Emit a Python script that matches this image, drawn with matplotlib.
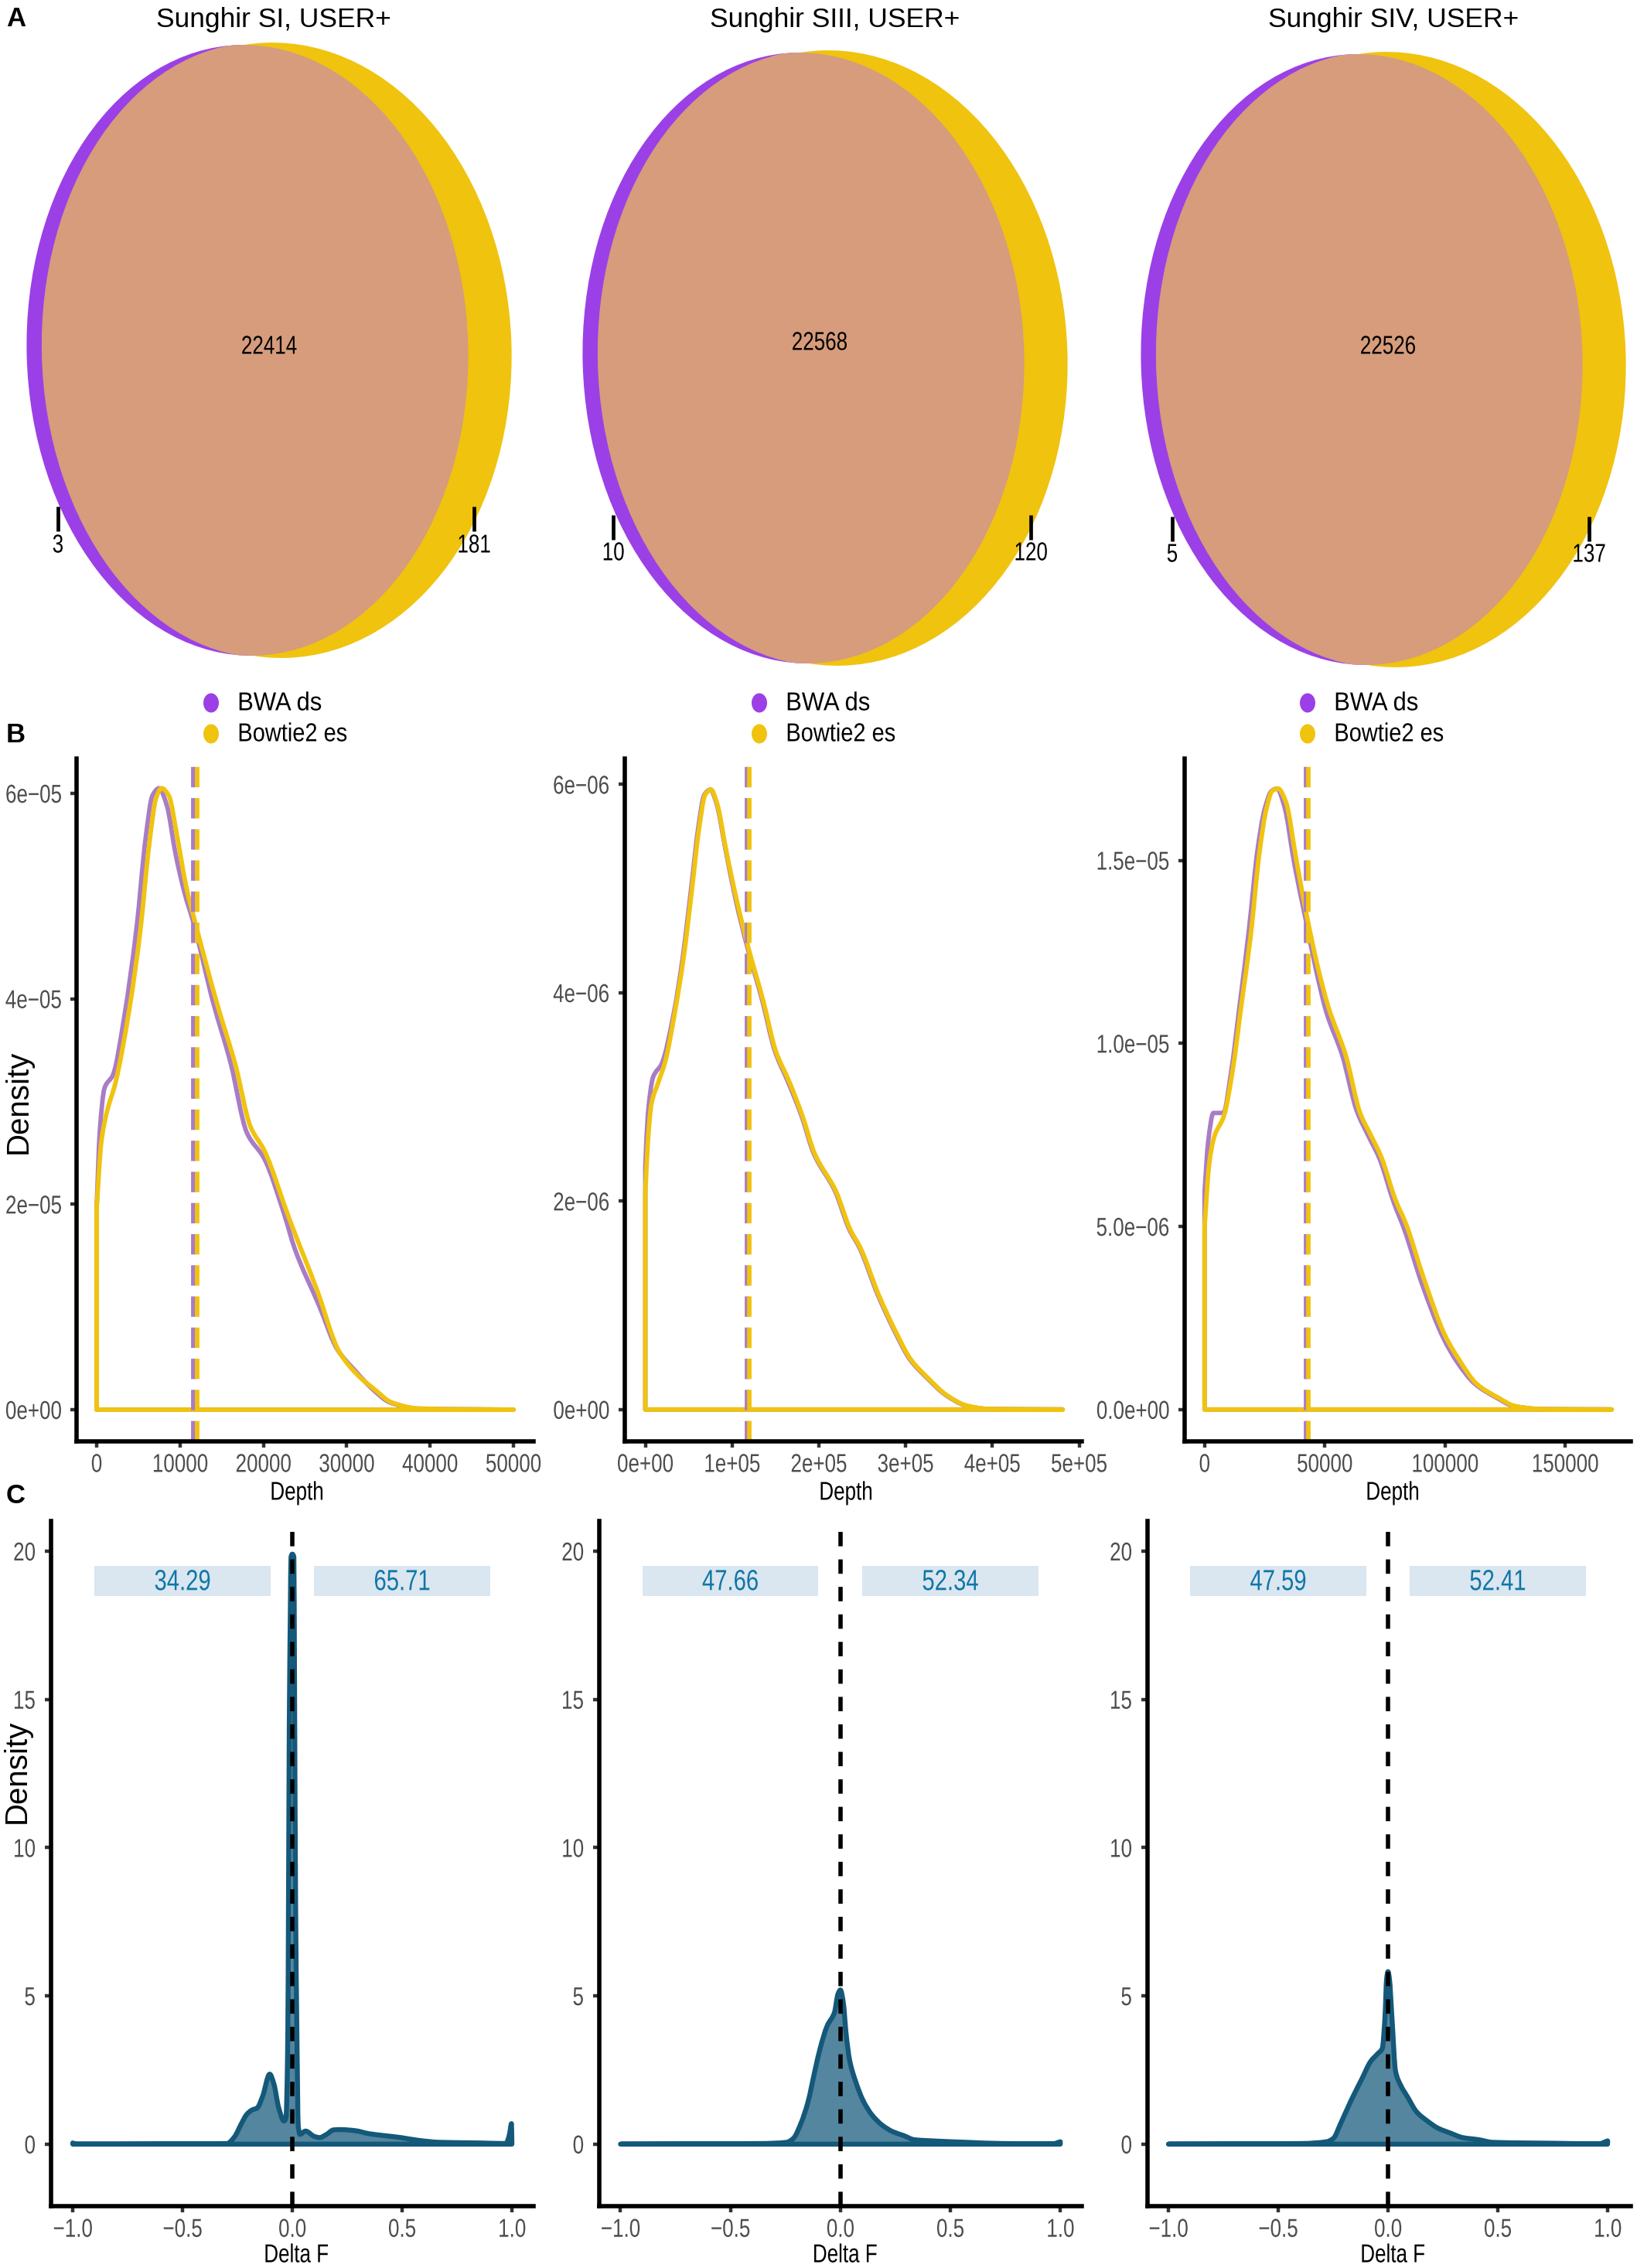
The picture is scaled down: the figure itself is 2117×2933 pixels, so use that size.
import matplotlib
matplotlib.use("Agg")
import matplotlib.pyplot as plt
from matplotlib.patches import Ellipse, PathPatch, Rectangle
from matplotlib.patheffects import AbstractPathEffect
from matplotlib.path import Path
from matplotlib.transforms import Affine2D, Bbox

W, H = 2117, 2933
plt.rcParams["font.family"] = ["Liberation Sans", "DejaVu Sans"]
plt.rcParams["lines.scale_dashes"] = False

PURPLE = "#9b40e6"
PURPLE_LINE = "#a97cc6"
YELLOW = "#f0c30f"
PINK = "#d69c7c"
TEAL = "#14587a"
GREY = "#4d4d4d"
SQUEEZE = 0.78

# Panel A
venn_titles = ["Sunghir SI, USER+", "Sunghir SIII, USER+", "Sunghir SIV, USER+"]
venn_shared = [22414, 22568, 22526]
venn_bwa_only = [3, 10, 5]
venn_bowtie_only = [181, 120, 137]

# Panel B, x in depth and y in density
b1_x_bwa = [0, 370, 940, 1960, 3300, 4800, 5870, 6700, 7490, 8425, 9490, 10550, 11620, 13960,
            16090, 18000, 20130, 22470, 23750, 26700, 28850, 31000, 33100, 35200, 38600, 50000]
b1_y_bwa = [1.97e-5, 2.7e-5, 3.13e-5, 3.26e-5, 3.82e-5, 4.7e-5, 5.56e-5, 5.98e-5, 6.05e-5, 5.88e-5,
            5.4e-5, 5.03e-5, 4.74e-5, 3.97e-5, 3.37e-5, 2.7e-5, 2.44e-5, 1.91e-5, 1.57e-5, 1.01e-5,
            5.9e-6, 3.8e-6, 2.0e-6, 7e-7, 1e-7, 0]
b1_x_bowtie = [0, 550, 1200, 2250, 3960, 5230, 6300, 7150, 7790, 8640, 9700, 10770, 11830, 14380,
               16700, 18430, 20130, 23100, 26500, 29060, 31400, 33300, 35400, 38800, 50000]
b1_y_bowtie = [1.97e-5, 2.6e-5, 2.89e-5, 3.18e-5, 3.92e-5, 4.66e-5, 5.5e-5, 5.96e-5, 6.05e-5, 5.98e-5,
               5.56e-5, 5.08e-5, 4.74e-5, 3.97e-5, 3.34e-5, 2.76e-5, 2.52e-5, 1.86e-5, 1.15e-5, 5.7e-6,
               3.3e-6, 2.0e-6, 7e-7, 1e-7, 0]

b2_x_bwa = [0, 2900, 9000, 19000, 33000, 43000, 53000, 61000, 68000, 75000, 82000, 92500, 104000,
            118500, 135000, 149000, 165000, 180000, 194000, 219000, 235000, 247000, 268000, 288000,
            305000, 325000, 346000, 370000, 395000, 481000]
b2_y_bwa = [2.33e-6, 2.82e-6, 3.19e-6, 3.32e-6, 3.81e-6, 4.33e-6, 5.01e-6, 5.58e-6, 5.9e-6, 5.95e-6,
            5.82e-6, 5.375e-6, 4.9e-6, 4.41e-6, 3.92e-6, 3.45e-6, 3.135e-6, 2.82e-6, 2.46e-6, 2.09e-6,
            1.73e-6, 1.55e-6, 1.1e-6, 7.4e-7, 4.8e-7, 3e-7, 1.4e-7, 3.6e-8, 5e-9, 0]
b2_x_bowtie = [0, 2900, 7000, 15000, 23000, 34000, 44000, 54000, 62000, 69000, 75700, 82600, 93000,
               105000, 119500, 136000, 150000, 166500, 181000, 195000, 220000, 236000, 248000, 269000,
               289000, 306000, 326000, 347000, 371000, 396000, 481000]
b2_y_bowtie = [2.07e-6, 2.56e-6, 2.93e-6, 3.14e-6, 3.34e-6, 3.81e-6, 4.33e-6, 5.01e-6, 5.58e-6, 5.9e-6,
               5.95e-6, 5.82e-6, 5.375e-6, 4.9e-6, 4.41e-6, 3.92e-6, 3.45e-6, 3.135e-6, 2.82e-6, 2.46e-6,
               2.09e-6, 1.73e-6, 1.55e-6, 1.1e-6, 7.4e-7, 4.8e-7, 3e-7, 1.4e-7, 3.6e-8, 5e-9, 0]

b3_x_bwa = [0, 1470, 3680, 7800, 11000, 14700, 18400, 22060, 25000, 27940, 30150, 33090, 37500, 41900,
            46300, 50700, 57350, 63200, 68400, 72800, 78700, 83100, 90400, 99300, 105150, 112500, 121300,
            128700, 140400, 169400]
b3_y_bwa = [5.96e-6, 7.3e-6, 8.1e-6, 8.1e-6, 9.2e-6, 1.11e-5, 1.307e-5, 1.53e-5, 1.64e-5, 1.69e-5, 1.696e-5,
            1.65e-5, 1.485e-5, 1.344e-5, 1.203e-5, 1.085e-5, 9.66e-6, 8.18e-6, 7.44e-6, 6.85e-6, 5.66e-6,
            4.92e-6, 3.44e-6, 1.96e-6, 1.29e-6, 7e-7, 3.3e-7, 9e-8, 1e-8, 0]
b3_x_bowtie = [0, 1900, 3970, 8090, 11760, 15400, 19100, 22800, 25700, 28200, 30600, 33800, 38200, 42650,
               47060, 51470, 58800, 64700, 69100, 73500, 79400, 83800, 91200, 100000, 105900, 113200, 122000,
               129400, 141000, 169400]
b3_y_bowtie = [5.0e-6, 6.7e-6, 7.44e-6, 8.03e-6, 9.3e-6, 1.11e-5, 1.29e-5, 1.52e-5, 1.64e-5, 1.69e-5, 1.696e-5,
               1.66e-5, 1.5e-5, 1.344e-5, 1.21e-5, 1.1e-5, 9.66e-6, 8.1e-6, 7.5e-6, 6.9e-6, 5.73e-6,
               5.07e-6, 3.58e-6, 2.03e-6, 1.36e-6, 7e-7, 3.3e-7, 9e-8, 1e-8, 0]

b_mean_bwa = [11620, 117000, 42200]
b_mean_bowtie = [12040, 119500, 43100]

b_xticks = [[0, 10000, 20000, 30000, 40000, 50000],
            [0, 100000, 200000, 300000, 400000, 500000],
            [0, 50000, 100000, 150000]]
b_xlabels = [["0", "10000", "20000", "30000", "40000", "50000"],
             ["0e+00", "1e+05", "2e+05", "3e+05", "4e+05", "5e+05"],
             ["0", "50000", "100000", "150000"]]
b_yticks = [[0, 2e-5, 4e-5, 6e-5], [0, 2e-6, 4e-6, 6e-6], [0, 5e-6, 1e-5, 1.5e-5]]
b_ylabels = [["0e+00", "2e\u221205", "4e\u221205", "6e\u221205"],
             ["0e+00", "2e\u221206", "4e\u221206", "6e\u221206"],
             ["0.0e+00", "5.0e\u221206", "1.0e\u221205", "1.5e\u221205"]]

# Panel C
c1_x = [-1, -0.984, -0.297, -0.264, -0.232, -0.208, -0.184, -0.16, -0.135, -0.103, -0.084, -0.062, -0.038,
        -0.029, -0.022, -0.019, -0.014, -0.009, -0.006, 0.0, 0.007, 0.01, 0.015, 0.02, 0.027, 0.035, 0.06,
        0.1, 0.124, 0.156, 0.188, 0.22, 0.285, 0.35, 0.415, 0.495, 0.576, 0.673, 0.851, 0.973, 0.989, 0.998, 1.0]
c1_y = [0.04, 0, 0.02, 0.24, 0.69, 1.0, 1.15, 1.22, 1.62, 2.36, 2.03, 1.22, 0.78,
        0.87, 2.83, 5.5, 14.0, 18.0, 19.8, 19.9, 19.8, 15.5, 8.0, 4.26, 0.6, 0.33, 0.44,
        0.26, 0.22, 0.33, 0.48, 0.49, 0.455, 0.35, 0.29, 0.22, 0.125, 0.06, 0.04, 0.02, 0.33, 0.69, 0]
c2_x = [-1, -0.358, -0.245, -0.213, -0.18, -0.148, -0.116, -0.092, -0.06, -0.027, -0.011, 0.0, 0.013, 0.026,
        0.042, 0.069, 0.102, 0.142, 0.19, 0.238, 0.287, 0.335, 0.416, 0.577, 0.74, 0.965, 1.0]
c2_y = [0, 0.02, 0.06, 0.2, 0.69, 1.4, 2.47, 3.23, 3.99, 4.44, 5.06, 5.2, 4.79, 3.72,
        2.83, 2.12, 1.49, 1.0, 0.64, 0.42, 0.29, 0.15, 0.11, 0.06, 0.02, 0.01, 0.08]
c3_x = [-1, -0.393, -0.28, -0.248, -0.216, -0.167, -0.119, -0.079, -0.047, -0.026, -0.014, -0.006, 0.0, 0.006,
        0.018, 0.034, 0.058, 0.09, 0.13, 0.179, 0.227, 0.283, 0.34, 0.412, 0.477, 0.62, 0.75, 0.96, 1.0]
c3_y = [0, 0.02, 0.08, 0.2, 0.69, 1.49, 2.2, 2.79, 3.05, 3.23, 4.26, 5.6, 5.82, 5.6,
        4.26, 2.47, 1.98, 1.58, 1.09, 0.78, 0.54, 0.375, 0.22, 0.15, 0.06, 0.04, 0.03, 0.01, 0.11]
c_left_pct = ["34.29", "47.66", "47.59"]
c_right_pct = ["65.71", "52.34", "52.41"]
c_xticks = [-1.0, -0.5, 0.0, 0.5, 1.0]
c_xlabels = ["\u22121.0", "\u22120.5", "0.0", "0.5", "1.0"]
c_yticks = [0, 5, 10, 15, 20]


def anchor_of(text, x0, x1):
    return {"left": x0, "center": (x0 + x1) / 2, "right": x1}[text.get_ha()]


class Narrow(AbstractPathEffect):
    # the original text is condensed sideways, no narrow font is installed
    def __init__(self, text, k):
        super().__init__()
        self.text = text
        self.k = k

    def draw_path(self, renderer, gc, tpath, affine, rgbFace=None):
        ext = tpath.get_extents(affine)
        a = anchor_of(self.text, ext.x0, ext.x1)
        squeezed = affine + Affine2D().translate(-a, 0).scale(self.k, 1).translate(a, 0)
        renderer.draw_path(gc, tpath, squeezed, rgbFace)


def narrow(text, k=SQUEEZE):
    text.set_path_effects([Narrow(text, k)])
    original = text.get_window_extent

    def extent(renderer=None, dpi=None):
        b = original(renderer, dpi)
        a = anchor_of(text, b.x0, b.x1)
        return Bbox.from_extents(a + (b.x0 - a) * k, b.y0, a + (b.x1 - a) * k, b.y1)

    text.get_window_extent = extent
    return text


def density_path(x, y):
    # closed density outline, smooth between the read points with monotone bezier segments
    n = len(x)
    slopes = [(y[i + 1] - y[i]) / (x[i + 1] - x[i]) for i in range(n - 1)]
    m = [slopes[0]] + [0.0] * (n - 2) + [slopes[-1]]
    for i in range(1, n - 1):
        if slopes[i - 1] * slopes[i] > 0:
            h0, h1 = x[i] - x[i - 1], x[i + 1] - x[i]
            w0, w1 = 2 * h1 + h0, h1 + 2 * h0
            m[i] = (w0 + w1) / (w0 / slopes[i - 1] + w1 / slopes[i])
    verts = [(x[0], 0), (x[0], y[0])]
    codes = [Path.MOVETO, Path.LINETO]
    for i in range(n - 1):
        h = x[i + 1] - x[i]
        verts += [(x[i] + h / 3, y[i] + m[i] * h / 3), (x[i + 1] - h / 3, y[i + 1] - m[i + 1] * h / 3),
                  (x[i + 1], y[i + 1])]
        codes += [Path.CURVE4] * 3
    verts += [(x[-1], 0), (x[0], 0)]
    codes += [Path.LINETO, Path.CLOSEPOLY]
    return Path(verts, codes)


def make_axes(fig, box, xref, yref, ypad=8.5):
    # box is left, right, top, bottom in pixels, xref/yref tie two pixels to two data values
    left, right, top, bottom = box
    ax = fig.add_axes([left / W, 1 - bottom / H, (right - left) / W, (bottom - top) / H])
    px0, px1, v0, v1 = xref
    ax.set_xlim(v0 + (left - px0) * (v1 - v0) / (px1 - px0), v0 + (right - px0) * (v1 - v0) / (px1 - px0))
    py0, py1, v0, v1 = yref
    ax.set_ylim(v0 + (bottom - py0) * (v1 - v0) / (py1 - py0), v0 + (top - py0) * (v1 - v0) / (py1 - py0))
    for side in ["top", "right"]:
        ax.spines[side].set_visible(False)
    for side in ["left", "bottom"]:
        ax.spines[side].set_linewidth(4.0)
    ax.tick_params(length=5.5, width=3.2, color="#333333", labelcolor=GREY)
    ax.tick_params(axis="x", pad=6)
    ax.tick_params(axis="y", pad=ypad)
    ax.patch.set_alpha(0)
    return ax


def set_labels(ax, xticks, xlabels, yticks, ylabels):
    ax.set_xticks(xticks)
    ax.set_xticklabels(xlabels, fontsize=24)
    ax.set_yticks(yticks)
    ax.set_yticklabels(ylabels, fontsize=24)
    for label in ax.get_xticklabels() + ax.get_yticklabels():
        narrow(label)


fig = plt.figure(figsize=(W / 100, H / 100), dpi=100, facecolor="white")
page = fig.add_axes([0, 0, 1, 1])
page.set_xlim(0, W)
page.set_ylim(H, 0)
page.axis("off")

# Panel A, ellipses placed in page pixels
venn_dx = [0, 719, 1441]
venn_dy = [0, 10, 12]
tick_x_left = [75, 793, 1516]
tick_x_right = [613, 1333, 2055]
shared_xy = [(348, 449), (1060, 444), (1795, 449)]
title_x = [354, 1080, 1802]
for i in range(3):
    dx, dy = venn_dx[i], venn_dy[i]
    bwa = Ellipse((320 + dx, 453 + dy), 571, 790, angle=-1.5, facecolor=PURPLE, edgecolor="none")
    bowtie = Ellipse((358 + dx, 453 + dy), 607, 796, angle=-2.0, facecolor=YELLOW, edgecolor="none")
    both = Ellipse((320 + dx, 453 + dy), 571, 790, angle=-1.5, facecolor=PINK, edgecolor="none")
    # the left edge of the overlap follows the purple edge more closely than the yellow ellipse does
    overlap_left = Ellipse((340 + dx, 453 + dy), 572, 796, angle=-1.5, visible=False)
    page.add_patch(bwa)
    page.add_patch(bowtie)
    page.add_patch(both)
    page.add_patch(overlap_left)
    both.set_clip_path(overlap_left)
    page.text(title_x[i], 26, venn_titles[i], ha="center", va="center", fontsize=25.5)
    narrow(page.text(shared_xy[i][0], shared_xy[i][1], str(venn_shared[i]), ha="center", va="center", fontsize=24))
    page.plot([tick_x_left[i]] * 2, [655 + dy * 1.1, 687 + dy * 1.1], color="black", lw=3.4, solid_capstyle="butt")
    page.plot([tick_x_right[i]] * 2, [655 + dy * 1.1, 687 + dy * 1.1], color="black", lw=3.4, solid_capstyle="butt")
    narrow(page.text(tick_x_left[i], 706 + dy, str(venn_bwa_only[i]), ha="center", va="center", fontsize=24))
    narrow(page.text(tick_x_right[i], 706 + dy, str(venn_bowtie_only[i]), ha="center", va="center", fontsize=24))

for letter, y in [("A", 24), ("B", 951), ("C", 1934)]:
    page.text(8, y, letter, ha="left", va="center", fontsize=25, fontweight="bold")

# Panel B
b_boxes = [(99, 690, 981, 1863.5), (808, 1399, 981, 1863.5), (1532, 2109, 981, 1863.5)]
b_xrefs = [(125, 664, 0, 50000), (834.5, 1395.6, 0, 500000), (1557.8, 2024, 0, 150000)]
b_yrefs = [(1823, 1026, 0, 6e-5), (1822.8, 1014.4, 0, 6e-6), (1822.8, 1112.6, 0, 1.5e-5)]
b_ypads = [61, 8.5, 8.5]
b_curves = [(b1_x_bwa, b1_y_bwa, b1_x_bowtie, b1_y_bowtie),
            (b2_x_bwa, b2_y_bwa, b2_x_bowtie, b2_y_bowtie),
            (b3_x_bwa, b3_y_bwa, b3_x_bowtie, b3_y_bowtie)]
depth_x = [384, 1094, 1801]
legend_dot_x = [273, 982, 1691]
for i in range(3):
    ax = make_axes(fig, b_boxes[i], b_xrefs[i], b_yrefs[i], b_ypads[i])
    x_a, y_a, x_b, y_b = b_curves[i]
    ax.axvline(b_mean_bwa[i], color=PURPLE_LINE, lw=4.2, linestyle=(0, (19, 10)))
    ax.axvline(b_mean_bowtie[i], color=YELLOW, lw=4.2, linestyle=(0, (19, 10)))
    ax.add_patch(PathPatch(density_path(x_a, y_a), facecolor="none", edgecolor=PURPLE_LINE, lw=4.2, joinstyle="round"))
    ax.add_patch(PathPatch(density_path(x_b, y_b), facecolor="none", edgecolor=YELLOW, lw=4.2, joinstyle="round"))
    set_labels(ax, b_xticks[i], b_xlabels[i], b_yticks[i], b_ylabels[i])
    if i == 0:
        # these labels nearly touch the page edge, anchor them on their left end
        for label in ax.get_yticklabels():
            label.set_ha("left")
    narrow(page.text(depth_x[i], 1931, "Depth", ha="center", va="center", fontsize=24))
    for y, name, color, k in [(909, "BWA ds", PURPLE, 0.93), (949, "Bowtie2 es", YELLOW, 0.87)]:
        page.add_patch(Ellipse((legend_dot_x[i], y), 20, 25, facecolor=color, edgecolor="none"))
        narrow(page.text(legend_dot_x[i] + 34, y + 1, name, ha="left", va="center", fontsize=24), k)
page.text(24, 1425, "Density", rotation=90, ha="center", va="center", fontsize=29)

# Panel C
c_boxes = [(65.7, 690, 1966.5, 2852.7), (774.8, 1399, 1966.5, 2852.7), (1483.7, 2108.7, 1966.5, 2852.7)]
c_xrefs = [(94.1, 662, -1, 1), (802.4, 1371.2, -1, 1), (1511, 2079, -1, 1)]
c_yref = (2772.8, 2006, 0, 20)
c_curves = [(c1_x, c1_y), (c2_x, c2_y), (c3_x, c3_y)]
delta_x = [383, 1092.6, 1801]
for i in range(3):
    ax = make_axes(fig, c_boxes[i], c_xrefs[i], c_yref)
    x, y = c_curves[i]
    outline = density_path(x, y)
    ax.add_patch(PathPatch(outline, facecolor=TEAL, alpha=0.72, edgecolor="none"))
    ax.add_patch(PathPatch(outline, facecolor="none", edgecolor=TEAL, lw=4.6, joinstyle="round"))
    ax.axvline(0, color="black", lw=4.0, linestyle=(0, (13.4, 12.2)), zorder=4)
    for x0, label in [(-0.9, c_left_pct[i]), (0.1, c_right_pct[i])]:
        ax.add_patch(Rectangle((x0, 18.5), 0.8, 1.0, facecolor="#dae6f0", edgecolor="none"))
        narrow(ax.text(x0 + 0.4, 18.95, label, ha="center", va="center", color="#0f76a8", fontsize=27))
    set_labels(ax, c_xticks, c_xlabels, c_yticks, [str(v) for v in c_yticks])
    narrow(page.text(delta_x[i], 2917, "Delta F", ha="center", va="center", fontsize=24))
page.text(22, 2291, "Density", rotation=90, ha="center", va="center", fontsize=29)

fig.savefig("out.png", dpi=100)
